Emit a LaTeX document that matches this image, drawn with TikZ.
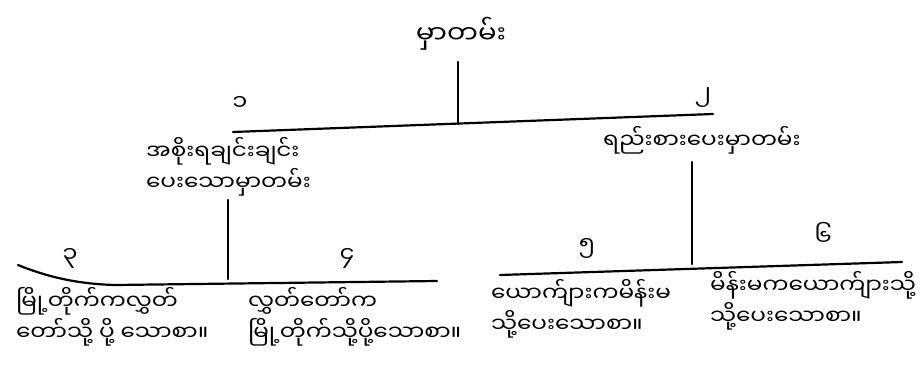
\documentclass[tikz,border=0pt]{standalone}
\usepackage{fontspec}
\newfontfamily\mya[Script=Myanmar,FakeStretch=1.1]{Noto Sans Myanmar UI}
\begin{document}
\begin{tikzpicture}[x=1pt,y=-1pt,
  bar/.style={line width=2.2pt,line cap=round},
  lbl/.style={font=\mya\fontsize{21}{31}\selectfont, inner sep=0pt, align=left},
  num/.style={font=\mya\fontsize{22}{24}\selectfont, inner sep=0pt}]
\useasboundingbox[fill=white] (0,0) rectangle (923,378);
% root
\node[lbl,font=\mya\fontsize{25}{28}\selectfont] (root) at (461,34) {မှာတမ်း};
\coordinate (j1) at (458,124);
\coordinate (r0) at (458,62);
\draw[bar] (r0) -- (j1);
% level 1 bar
\coordinate (b1l) at (233,132);
\coordinate (b1r) at (713,114);
\draw[bar] (b1l) -- (b1r);
\node[num] (n1) at (240,103) {၁};
\node[num] (n2) at (703,98) {၂};
% level 1 texts
\node[lbl,anchor=west] (a) at (146,167) {အစိုးရချင်းချင်း\\ပေးသောမှာတမ်း};
\node[lbl,anchor=west] (b) at (603,140) {ရည်းစားပေးမှာတမ်း};
\coordinate (av1) at (228,200);
\coordinate (av2) at (228,279);
\draw[bar] (av1) -- (av2);
\coordinate (bv1) at (692,162);
\coordinate (bv2) at (692,264);
\draw[bar] (bv1) -- (bv2);
% level 2 left bar
\coordinate (c1) at (18,265);
\coordinate (c2) at (115,285);
\coordinate (c3) at (437,281);
\draw[bar] (c1) .. controls (50,278) and (80,284) .. (c2) -- (c3);
\node[num] (n3) at (70,258) {၃};
\node[num] (n4) at (347,258) {၄};
% level 2 right bar
\coordinate (d1) at (500,275);
\coordinate (d2) at (902,262);
\draw[bar] (d1) -- (d2);
\node[num] (n5) at (587,248) {၅};
\node[num] (n6) at (823,234) {၆};
% leaves
\node[lbl,anchor=west] (l3) at (16,317) {မြို့တိုက်ကလွှတ်\\တော်သို့ ပို့ သောစာ။};
\node[lbl,anchor=west] (l4) at (248,317) {လွှတ်တော်က\\မြို့တိုက်သို့ပို့သောစာ။};
\node[lbl,anchor=west] (l5) at (491,309) {ယောက်ျားကမိန်းမ\\သို့ပေးသောစာ။};
\node[lbl,anchor=west] (l6) at (710,301) {မိန်းမကယောက်ျားသို့\\သို့ပေးသောစာ။};
\end{tikzpicture}
\end{document}
